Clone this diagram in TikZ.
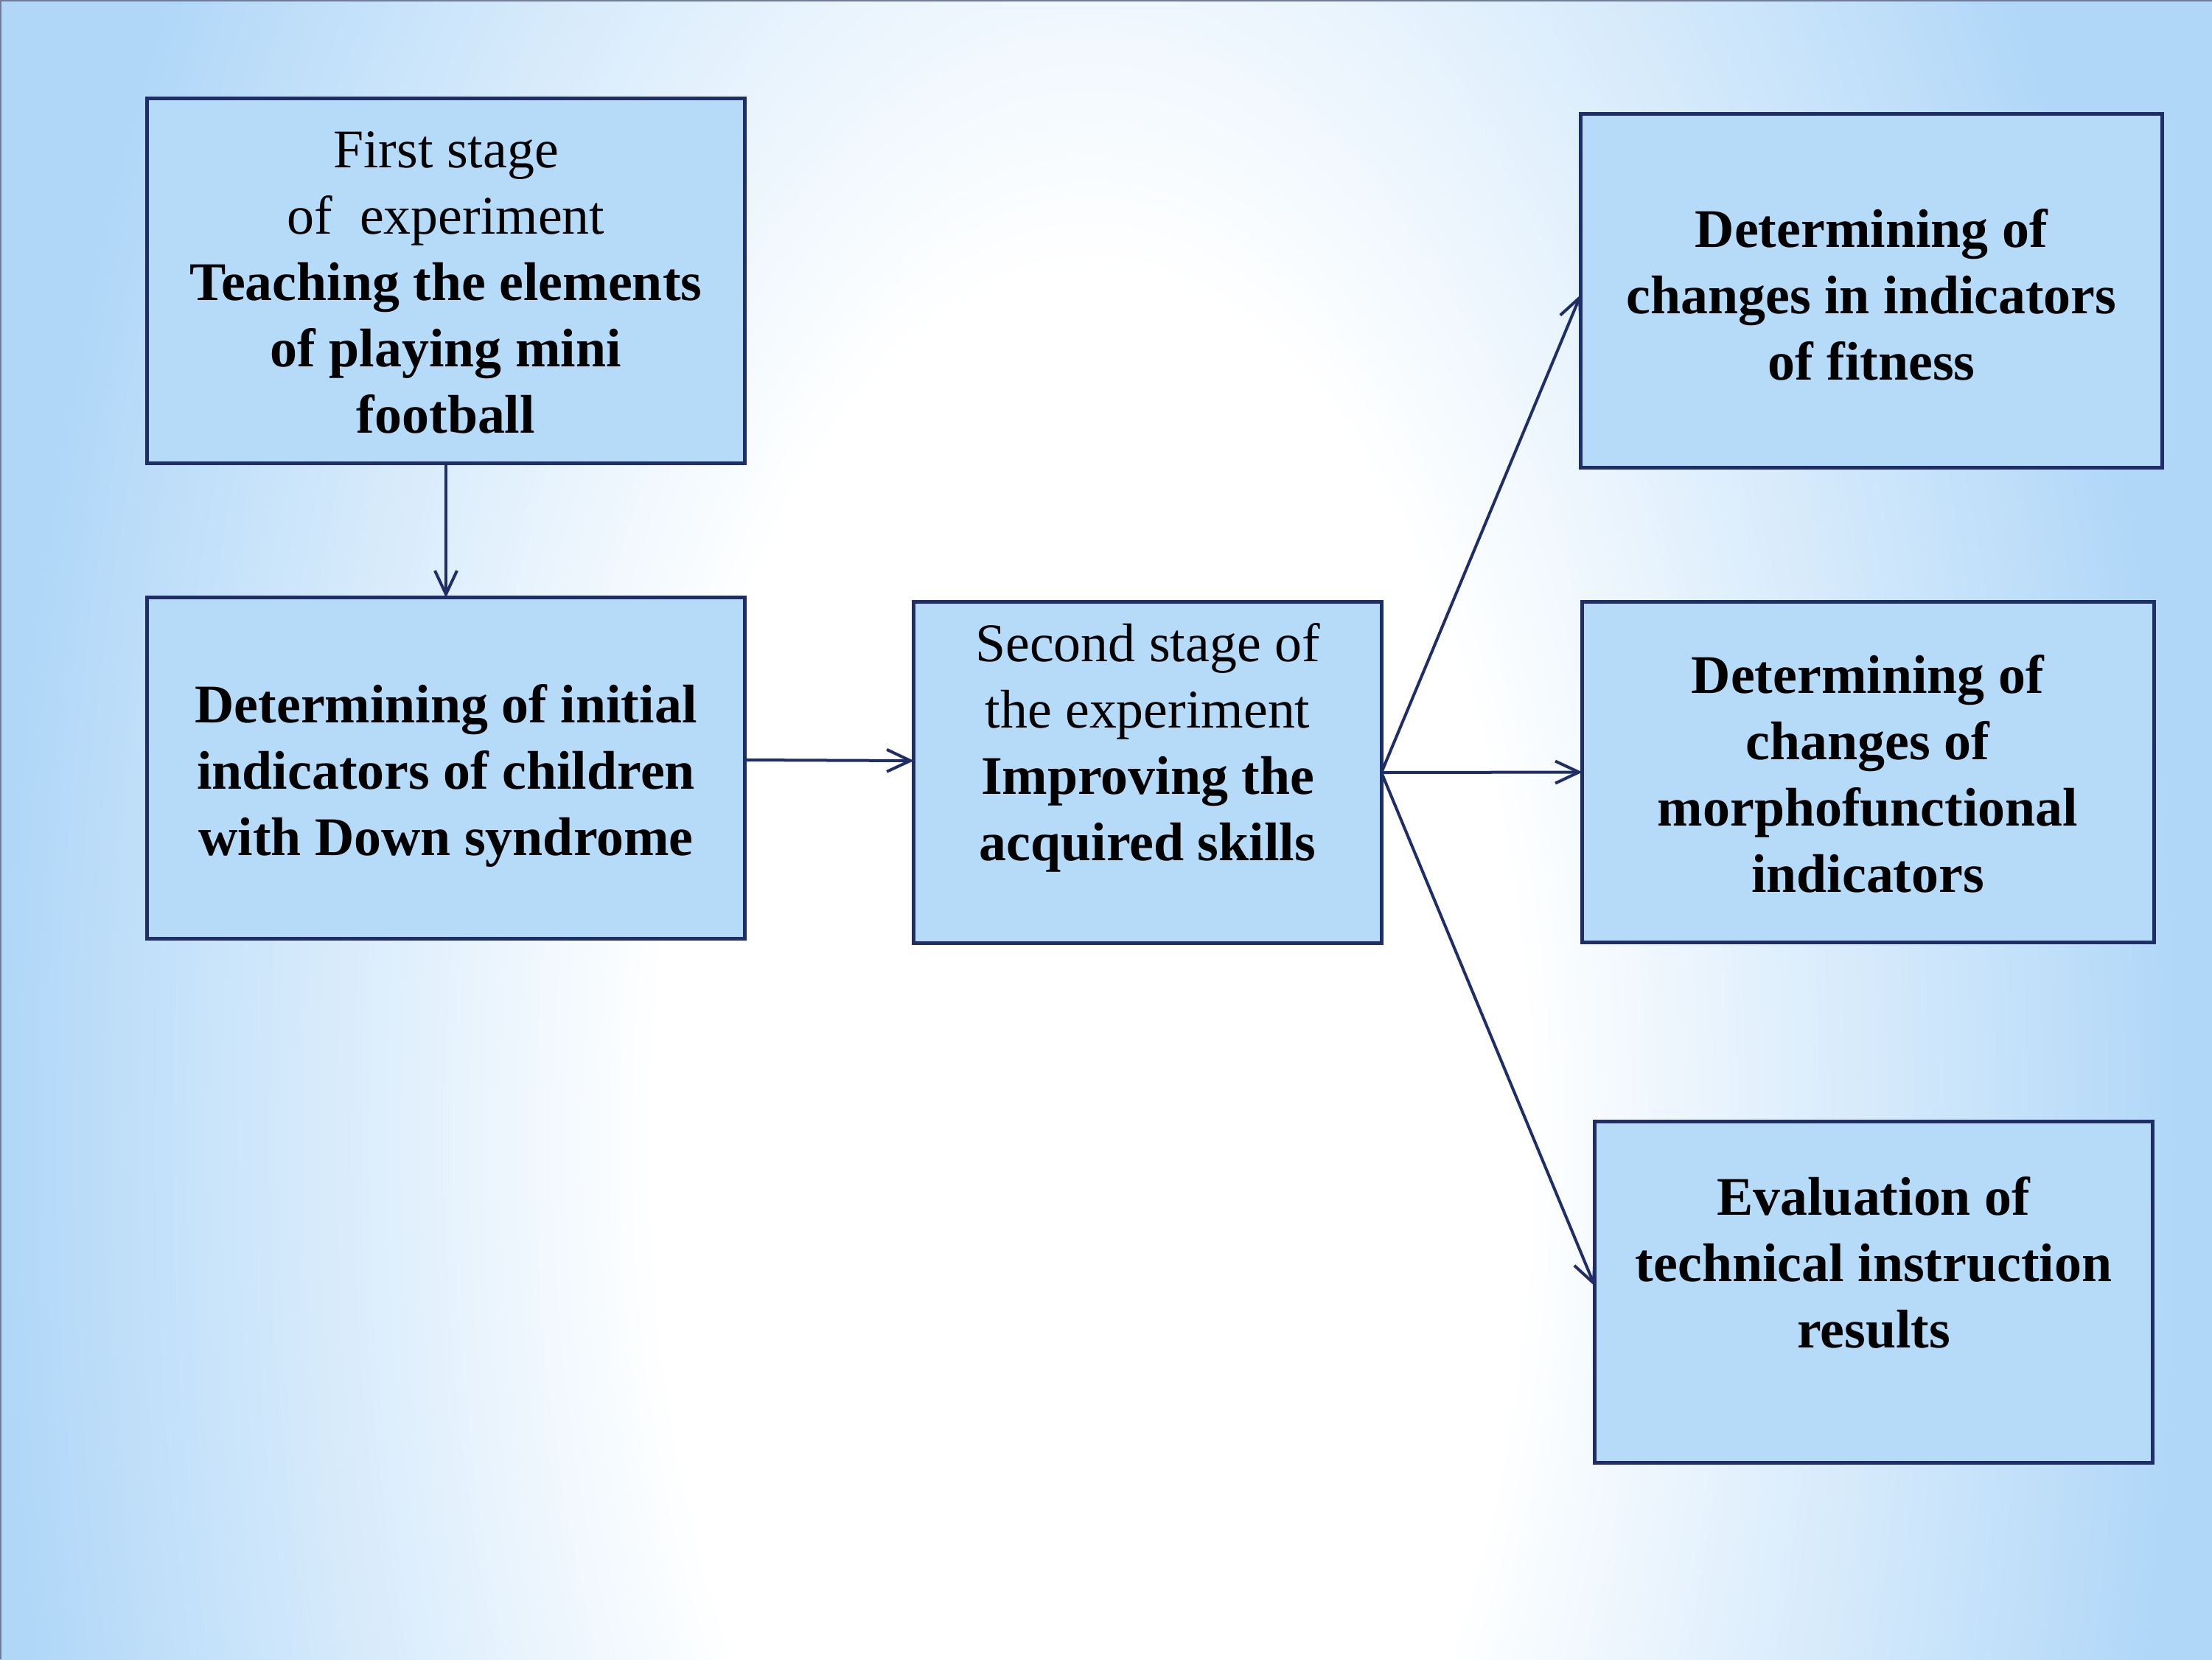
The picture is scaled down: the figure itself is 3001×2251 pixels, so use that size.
\documentclass[tikz,border=0pt]{standalone}
\usepackage{fontspec}
\setmainfont{Liberation Serif}
\usetikzlibrary{arrows.meta}
\definecolor{bgblue}{RGB}{176,215,248}
\definecolor{boxfill}{RGB}{181,219,249}
\definecolor{navy}{RGB}{32,46,104}
\definecolor{edgegray}{RGB}{112,124,152}
\pgfdeclareradialshading{bgshade}{\pgfpoint{0bp}{0bp}}{color(0bp)=(white); color(5.9bp)=(white); color(14.8bp)=(bgblue); color(50bp)=(bgblue)}
\begin{document}
\begin{tikzpicture}[x=0.01cm,y=-0.01cm,
  stagebox/.style={draw=navy, line width=0.05cm, fill=boxfill, rectangle, inner sep=0pt, outer sep=0pt},
  boxtext/.style={anchor=north, align=center, inner sep=0pt, font=\fontsize{21}{25.6}\selectfont},
  arr/.style={draw=navy, line width=0.04cm, -{Straight Barb[length=0.32cm,width=0.3cm]}}]
\useasboundingbox (0,0) rectangle (3001,2251);
\begin{scope}
  \clip (0,0) rectangle (3001,2251);
  \begin{scope}[transform canvas={shift={(1480,1550)}, xscale=0.5}]
    \shade[shading=bgshade] (0,0) circle [radius=50cm];
  \end{scope}
\end{scope}
\draw[edgegray, line width=0.03cm] (0,2251) -- (0,0) -- (3001,0);

\node[stagebox, minimum width=8.10cm, minimum height=4.94cm] (b1) at (605,381) {};
\node[stagebox, minimum width=8.10cm, minimum height=4.62cm] (b2) at (605,1042) {};
\node[stagebox, minimum width=6.34cm, minimum height=4.62cm] (b3) at (1557,1048) {};
\node[stagebox, minimum width=7.88cm, minimum height=4.79cm] (b4) at (2539,394.5) {};
\node[stagebox, minimum width=7.75cm, minimum height=4.61cm] (b5) at (2534.5,1047.5) {};
\node[stagebox, minimum width=7.56cm, minimum height=4.62cm] (b6) at (2542,1753) {};

\node[boxtext] (t1) at (605,178) {First stage\\of\ \ experiment\\\textbf{Teaching the elements}\\\textbf{of playing mini}\\\textbf{football}};
\node[boxtext] (t2) at (605,928) {\textbf{Determining of initial}\\\textbf{indicators of children}\\\textbf{with Down syndrome}};
\node[boxtext] (t3) at (1557,845) {Second stage of\\the experiment\\\textbf{Improving the}\\\textbf{acquired skills}};
\node[boxtext] (t4) at (2539,283) {\textbf{Determining of}\\\textbf{changes in indicators}\\\textbf{of fitness}};
\node[boxtext] (t5) at (2534,888) {\textbf{Determining of}\\\textbf{changes of}\\\textbf{morphofunctional}\\\textbf{indicators}};
\node[boxtext] (t6) at (2542,1596) {\textbf{Evaluation of}\\\textbf{technical instruction}\\\textbf{results}};

\draw[arr] (b1.south) -- (b2.north);
\draw[arr] ([yshift=0.11cm]b2.east) -- ([yshift=0.16cm]b3.west);
\draw[arr] (b3.east) -- ([yshift=-0.05cm]b4.west);
\draw[arr] (b3.east) -- (b5.west);
\draw[arr] (b3.east) -- ([yshift=0.08cm]b6.west);
\end{tikzpicture}
\end{document}
